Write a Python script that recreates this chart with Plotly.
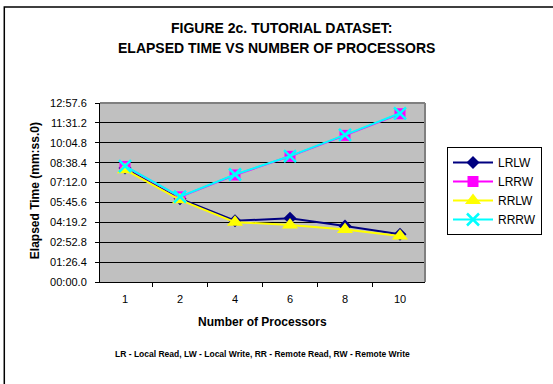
import plotly.graph_objects as go

# Data (elapsed time in seconds)
processors = ["1", "2", "4", "6", "8", "10"]
lrlw = [495, 362, 266, 277, 243, 207]
lrrw = [502, 370, 465, 546, 637, 731]
rrlw = [488, 357, 260, 248, 228, 200]
rrrw = [503, 371, 467, 547, 639, 733]

y_tick_labels = ["00:00.0", "01:26.4", "02:52.8", "04:19.2", "05:45.6",
                 "07:12.0", "08:38.4", "10:04.8", "11:31.2", "12:57.6"]
y_tick_step = 86.4
y_tick_values = [i * y_tick_step for i in range(len(y_tick_labels))]

W, H = 553, 384
L, R, T, B = 100, 426, 103, 282

FONT = "Liberation Sans, Arial, sans-serif"

fig = go.Figure()

fig.add_trace(go.Scatter(x=processors, y=lrlw, name="LRLW", mode="lines+markers",
                         line=dict(color="#000080", width=2),
                         marker=dict(symbol="diamond", size=10, color="#000080")))
fig.add_trace(go.Scatter(x=processors, y=lrrw, name="LRRW", mode="lines+markers",
                         line=dict(color="#FF00FF", width=2),
                         marker=dict(symbol="square", size=11, color="#FF00FF")))
fig.add_trace(go.Scatter(x=processors, y=rrlw, name="RRLW", mode="lines+markers",
                         line=dict(color="#FFFF00", width=2),
                         marker=dict(symbol="triangle-up", size=14, color="#FFFF00")))
fig.add_trace(go.Scatter(x=processors, y=rrrw, name="RRRW", mode="lines+markers",
                         line=dict(color="#00FFFF", width=2),
                         marker=dict(symbol="x-thin-open", size=12,
                                     line=dict(color="#00FFFF", width=2.5))))

fig.update_layout(
    width=W, height=H,
    margin=dict(l=L, r=W - R, t=T, b=H - B, pad=0),
    paper_bgcolor="white",
    plot_bgcolor="#C0C0C0",
    font=dict(family=FONT, size=11, color="black"),
    showlegend=True,
    legend=dict(
        x=(447 - L) / (R - L), y=(B - 147) / (B - T),
        xanchor="left", yanchor="top",
        bgcolor="white", bordercolor="black", borderwidth=1,
        font=dict(family=FONT, size=12, color="black"),
        tracegroupgap=0, itemwidth=40,
    ),
    xaxis=dict(
        type="category",
        showgrid=False,
        showline=True, linecolor="black", linewidth=1,
        ticks="outside", tickson="boundaries", ticklen=4, tickcolor="black",
        ticklabelstandoff=7,
        tickfont=dict(family=FONT, size=11, color="black"),
        zeroline=False,
    ),
    yaxis=dict(
        range=[0, y_tick_values[-1]],
        tickvals=y_tick_values, ticktext=y_tick_labels,
        showgrid=True, gridcolor="black", gridwidth=1,
        showline=True, linecolor="black", linewidth=1,
        ticks="outside", ticklen=4, tickcolor="black",
        ticklabelstandoff=6,
        tickfont=dict(family=FONT, size=11, color="black"),
        zeroline=False,
    ),
)

# Plot area top/right border (gray)
fig.add_shape(type="line", xref="paper", yref="paper", x0=0, x1=1, y0=1, y1=1,
              line=dict(color="#808080", width=2), layer="above")
fig.add_shape(type="line", xref="paper", yref="paper", x0=1, x1=1, y0=0, y1=1,
              line=dict(color="#808080", width=2), layer="above")

# Chart area border
def px_x(px):
    return (px - L) / (R - L)

def px_y(py):
    return (B - py) / (B - T)

fig.add_shape(type="rect", xref="paper", yref="paper",
              x0=px_x(4), x1=px_x(600), y0=px_y(430), y1=px_y(7),
              line=dict(color="black", width=1.5), fillcolor="rgba(0,0,0,0)")

def text_ann(txt, x, y, size, bold=True, angle=0):
    fig.add_annotation(text=("<b>%s</b>" % txt) if bold else txt,
                       xref="paper", yref="paper", x=px_x(x), y=px_y(y),
                       xanchor="center", yanchor="middle", showarrow=False,
                       textangle=angle,
                       font=dict(family=FONT, size=size, color="black"))

text_ann("FIGURE 2c. TUTORIAL DATASET:", 282, 28, 14)
text_ann("ELAPSED TIME VS NUMBER OF PROCESSORS", 277, 48, 14)
text_ann("Elapsed Time (mm:ss.0)", 35, 191, 12, angle=-90)
text_ann("Number of Processors", 263.5, 322, 12)
text_ann("LR - Local Read, LW - Local Write, RR - Remote Read, RW - Remote Write", 262.5, 354, 8.5)

fig.write_html("out.html")
